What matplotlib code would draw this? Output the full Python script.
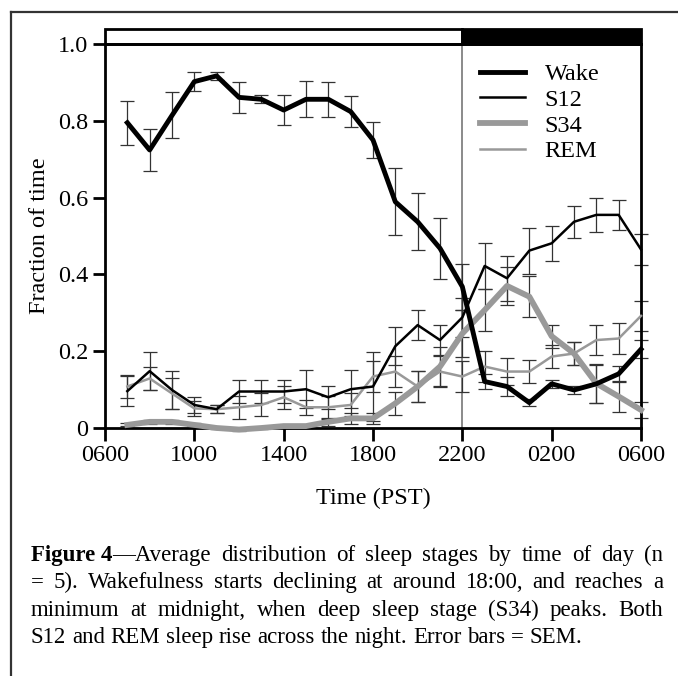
import numpy as np
import matplotlib
matplotlib.use("Agg")
import matplotlib.pyplot as plt
from matplotlib.patches import Rectangle

plt.rcParams['font.family'] = ['Liberation Serif', 'DejaVu Serif']

# hours after 06:00, one point per hour (07:00 ... 06:00 next day)
hours = list(range(1, 25))

wake = [0.795, 0.724, 0.814, 0.902, 0.917, 0.861, 0.856, 0.828, 0.856, 0.856,
        0.824, 0.750, 0.589, 0.537, 0.468, 0.368, 0.121, 0.108, 0.066, 0.115,
        0.099, 0.115, 0.141, 0.205]
wake_sem = [0.057, 0.055, 0.060, 0.024, 0.010, 0.040, 0.010, 0.040, 0.047, 0.045,
            0.040, 0.047, 0.087, 0.074, 0.080, 0.060, 0.020, 0.024, 0.010, 0.010,
            0.010, 0.050, 0.020, 0.023]

s12 = [0.096, 0.148, 0.099, 0.060, 0.049, 0.095, 0.095, 0.095, 0.101, 0.080,
       0.101, 0.108, 0.213, 0.268, 0.229, 0.288, 0.422, 0.390, 0.462, 0.481,
       0.537, 0.555, 0.555, 0.465]
s12_sem = [0.040, 0.050, 0.050, 0.020, 0.010, 0.030, 0.030, 0.030, 0.050, 0.030,
           0.050, 0.090, 0.050, 0.040, 0.040, 0.050, 0.060, 0.058, 0.060, 0.045,
           0.042, 0.045, 0.040, 0.040]

s34 = [0.008, 0.016, 0.016, 0.008, 0.000, -0.004, 0.000, 0.005, 0.005, 0.016,
       0.025, 0.025, 0.064, 0.108, 0.160, 0.246, 0.307, 0.370, 0.342, 0.239,
       0.194, 0.116, 0.082, 0.047]
s34_sem = [0.004, 0.005, 0.005, 0.004, 0.003, 0.003, 0.003, 0.004, 0.004, 0.010,
           0.015, 0.015, 0.030, 0.040, 0.050, 0.060, 0.055, 0.050, 0.053, 0.030,
           0.030, 0.050, 0.040, 0.020]

rem = [0.108, 0.129, 0.090, 0.051, 0.049, 0.054, 0.060, 0.080, 0.054, 0.054,
       0.060, 0.134, 0.147, 0.108, 0.147, 0.134, 0.160, 0.147, 0.147, 0.186,
       0.194, 0.229, 0.233, 0.292]
rem_sem = [0.030, 0.030, 0.040, 0.020, 0.010, 0.030, 0.030, 0.030, 0.020, 0.030,
           0.030, 0.040, 0.040, 0.040, 0.040, 0.040, 0.040, 0.035, 0.030, 0.030,
           0.030, 0.040, 0.040, 0.040]

xtick_pos = [0, 4, 8, 12, 16, 20, 24]
xtick_labels = ['0600', '1000', '1400', '1800', '2200', '0200', '0600']
ytick_pos = [0, 0.2, 0.4, 0.6, 0.8, 1.0]
ytick_labels = ['0', '0.2', '0.4', '0.6', '0.8', '1.0']

caption_lines = [
    ("Figure 4", "\u2014Average distribution of sleep stages by time of day (n"),
    ("", "= 5). Wakefulness starts declining at around 18:00, and reaches a"),
    ("", "minimum at midnight, when deep sleep stage (S34) peaks. Both"),
    ("", "S12 and REM sleep rise across the night. Error bars = SEM."),
]

FS = 17.5
CAP_FS = 16.5
fig = plt.figure(figsize=(6.78, 6.76), dpi=100)
ax = fig.add_axes([105 / 678, 1 - 428 / 676, 536 / 678, 384 / 676])

# error bars first
for y, e in [(wake, wake_sem), (s12, s12_sem), (s34, s34_sem), (rem, rem_sem)]:
    ax.errorbar(hours, y, yerr=e, fmt='none', ecolor='#333333', elinewidth=0.9,
                capsize=5, capthick=0.9, clip_on=False, zorder=2)

ax.axvline(16, color='#777777', lw=1.2, zorder=1)

ax.plot(hours, s34, color='#999999', lw=4.2, label='S34', clip_on=False, zorder=3)
ax.plot(hours, rem, color='#999999', lw=1.8, label='REM', clip_on=False, zorder=3)
ax.plot(hours, s12, color='black', lw=1.8, label='S12', clip_on=False, zorder=4)
ax.plot(hours, wake, color='black', lw=3.5, label='Wake', clip_on=False, zorder=5)

ax.set_xlim(0, 24)
ax.set_ylim(0, 1.0)
ax.set_xticks(xtick_pos)
ax.set_xticklabels(xtick_labels, fontsize=FS)
ax.set_yticks(ytick_pos)
ax.set_yticklabels(ytick_labels, fontsize=FS)
ax.tick_params(direction='out', length=9, width=2, pad=3)
for s in ax.spines.values():
    s.set_linewidth(2)
ax.set_xlabel('Time (PST)', fontsize=FS, labelpad=16)
ax.set_ylabel('Fraction of time', fontsize=FS, labelpad=6)

# light/dark bar above the plot
bar_h = 15 / 384
ax.add_patch(Rectangle((0, 1.0), 16, bar_h, transform=ax.get_xaxis_transform(),
                       facecolor='white', edgecolor='black', lw=2, clip_on=False))
ax.add_patch(Rectangle((16, 1.0), 8, bar_h, transform=ax.get_xaxis_transform(),
                       facecolor='black', edgecolor='black', lw=2, clip_on=False))

h, l = ax.get_legend_handles_labels()
order = [3, 2, 0, 1]
ax.legend([h[i] for i in order], [l[i] for i in order], loc='upper left',
          bbox_to_anchor=(0.70, 0.95), frameon=False, fontsize=FS,
          borderaxespad=0, borderpad=0,
          handlelength=1.85, handletextpad=0.8, labelspacing=0.15)

# outer frame (only top/left visible)
fig.add_artist(plt.Line2D([11 / 678, 11 / 678], [0, 1 - 12 / 676], color='#333333', lw=1.6))
fig.add_artist(plt.Line2D([11 / 678, 1], [1 - 12 / 676, 1 - 12 / 676], color='#333333', lw=1.6))

# caption, justified
fig.canvas.draw()
renderer = fig.canvas.get_renderer()
probe1 = fig.text(0, 0, 'a b', fontsize=CAP_FS)
probe2 = fig.text(0, 0, 'ab', fontsize=CAP_FS)
space = probe1.get_window_extent(renderer).width - probe2.get_window_extent(renderer).width
probe1.remove()
probe2.remove()

x0, x1 = 31, 663
base_y = [561, 588, 616, 643]
for k, (bold, rest) in enumerate(caption_lines):
    words = []
    if bold:
        words.append((bold, 'bold'))
    for w in rest.split(' '):
        words.append((w, 'normal'))
    texts = []
    for w, wt in words:
        t = fig.text(0, 1 - base_y[k] / 676, w, fontsize=CAP_FS, fontweight=wt,
                     va='baseline')
        texts.append(t)
    widths = [t.get_window_extent(renderer).width for t in texts]
    # bold part is glued to first normal word
    if bold:
        groups = [[0, 1]] + [[i] for i in range(2, len(texts))]
    else:
        groups = [[i] for i in range(len(texts))]
    gw = [sum(widths[i] for i in g) for g in groups]
    if k < 3:
        gap = (x1 - x0 - sum(gw)) / (len(groups) - 1)
    else:
        gap = space
    x = x0
    for g, w in zip(groups, gw):
        xx = x
        for i in g:
            texts[i].set_x(xx / 678)
            xx += widths[i]
        x += w + gap

fig.savefig('out.png', dpi=100)
